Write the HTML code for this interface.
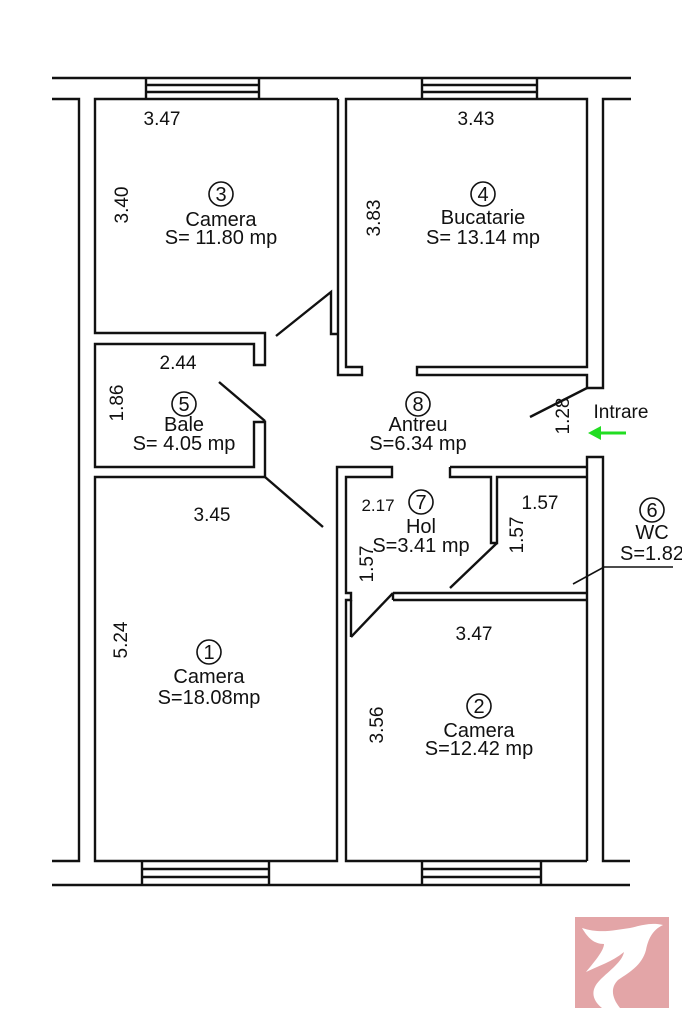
<!DOCTYPE html>
<html><head><meta charset="utf-8"><style>
html,body{margin:0;padding:0;background:#fff;}
svg{display:block;}
text{font-family:"Liberation Sans",sans-serif;font-size:19px;fill:#111;text-anchor:middle;}
text.l{font-size:20px;}
</style></head><body>
<svg width="682" height="1023" viewBox="0 0 682 1023" xmlns="http://www.w3.org/2000/svg">
<g fill="none" stroke="#111" stroke-width="2.4" stroke-linejoin="miter">
<line x1="52" y1="78" x2="631" y2="78"/>
<polyline points="52,99 79,99 79,861 52,861"/>
<line x1="52" y1="885" x2="630" y2="885"/>
<path d="M146,78V99M259,78V99M146,85H259M146,92H259"/>
<path d="M422,78V99M537,78V99M422,85H537M422,92H537"/>
<path d="M142,861V885M269,861V885M142,869H269M142,877H269"/>
<path d="M422,861V885M541,861V885M422,869H541M422,877H541"/>
<polyline points="338,99 95,99 95,333 265,333 265,365 254,365 254,344 95,344 95,467 254,467 254,422 265,422 265,477"/>
<polyline points="276,336 331,292 331,334 338,334"/>
<polyline points="338,99 338,375 362,375 362,367 346,367 346,99 587,99 587,367 417,367 417,375 587,375 587,388 603,388 603,99 631,99"/>
<polyline points="630,861 603,861 603,457 587,457 587,861"/>
<polyline points="265,477 95,477 95,861 337,861 337,467 392,467 392,477 346,477 346,593 351,593 351,600 346,600 346,861 587,861"/>
<line x1="351" y1="600" x2="351" y2="637"/>
<polyline points="450,467 450,477 491,477 491,543 497,543 497,477 587,477"/>
<line x1="450" y1="467" x2="587" y2="467"/>
<path d="M393,593H587M393,600H587M393,593V600"/>
<line x1="219" y1="382" x2="265" y2="421"/>
<line x1="265" y1="477" x2="323" y2="527"/>
<line x1="530" y1="417" x2="587" y2="388"/>
<line x1="450" y1="588" x2="497" y2="543"/>
<line x1="351" y1="637" x2="393" y2="593"/>
<polyline points="573,584 604,567 673,567" stroke-width="1.6"/>
<circle cx="221" cy="194" r="12" stroke-width="1.6"/>
<circle cx="483" cy="194" r="12" stroke-width="1.6"/>
<circle cx="184" cy="404" r="12" stroke-width="1.6"/>
<circle cx="418" cy="404" r="12" stroke-width="1.6"/>
<circle cx="421" cy="502" r="12" stroke-width="1.6"/>
<circle cx="652" cy="510" r="12" stroke-width="1.6"/>
<circle cx="209" cy="652" r="12" stroke-width="1.6"/>
<circle cx="479" cy="706" r="12" stroke-width="1.6"/>
</g>
<line x1="626" y1="433" x2="598" y2="433" stroke="#22dd22" stroke-width="3"/>
<polygon points="588,433 601,426 601,440" fill="#22dd22"/>
<text x="162" y="125">3.47</text>
<text transform="translate(128,205) rotate(-90)">3.40</text>
<text x="221" y="201" class="l">3</text>
<text x="221" y="226" class="l">Camera</text>
<text x="221" y="244" class="l">S= 11.80 mp</text>
<text x="476" y="125">3.43</text>
<text transform="translate(380,218) rotate(-90)">3.83</text>
<text x="483" y="201" class="l">4</text>
<text x="483" y="224" class="l">Bucatarie</text>
<text x="483" y="244" class="l">S= 13.14 mp</text>
<text x="178" y="369">2.44</text>
<text transform="translate(123,403) rotate(-90)">1.86</text>
<text x="184" y="411" class="l">5</text>
<text x="184" y="431" class="l">Bale</text>
<text x="184" y="450" class="l">S= 4.05 mp</text>
<text x="418" y="411" class="l">8</text>
<text x="418" y="431" class="l">Antreu</text>
<text x="418" y="450" class="l">S=6.34 mp</text>
<text transform="translate(569,416) rotate(-90)">1.28</text>
<text x="621" y="418">Intrare</text>
<text x="378" y="511" style="font-size:17px">2.17</text>
<text x="421" y="509" class="l">7</text>
<text x="421" y="533" class="l">Hol</text>
<text x="421" y="552" class="l">S=3.41 mp</text>
<text x="540" y="509">1.57</text>
<text transform="translate(523,535) rotate(-90)">1.57</text>
<text transform="translate(373,564) rotate(-90)">1.57</text>
<text x="652" y="517" class="l">6</text>
<text x="652" y="539" class="l">WC</text>
<text x="652" y="560" class="l">S=1.82</text>
<text x="212" y="521">3.45</text>
<text transform="translate(127,640) rotate(-90)">5.24</text>
<text x="209" y="659" class="l">1</text>
<text x="209" y="683" class="l">Camera</text>
<text x="209" y="704" class="l">S=18.08mp</text>
<text x="474" y="640">3.47</text>
<text transform="translate(383,725) rotate(-90)">3.56</text>
<text x="479" y="713" class="l">2</text>
<text x="479" y="737" class="l">Camera</text>
<text x="479" y="755" class="l">S=12.42 mp</text>
<rect x="575" y="917" width="94" height="91" fill="#e3a5a7"/>
<path d="M582,928 C600,934 615,930 630,928 C640,926 650,922 663,925 C652,930 648,940 646,950 C642,965 630,972 618,980 C610,988 612,998 620,1008 L602,1008 C592,1000 590,990 600,980 C610,970 622,962 624,952 C612,962 598,966 586,972 C596,960 604,950 604,944 C594,944 588,938 582,928 Z" fill="#fff"/>
</svg>
</body></html>
